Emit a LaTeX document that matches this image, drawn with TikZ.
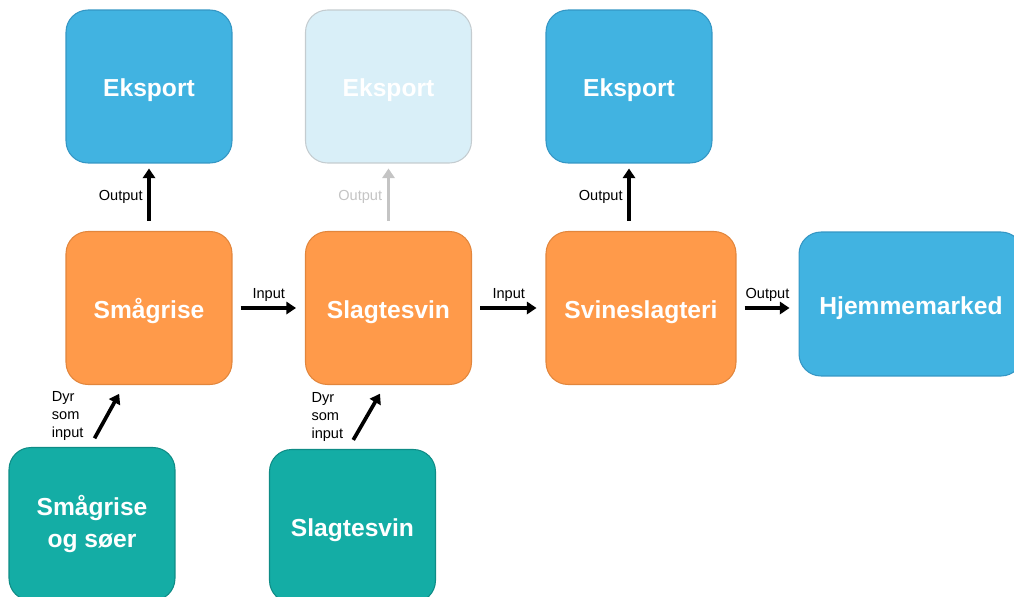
\documentclass[tikz,border=0pt]{standalone}
\usepackage{fontspec}
\setmainfont{Liberation Sans}
\usetikzlibrary{arrows.meta}
\definecolor{kblue}{RGB}{65,179,225}
\definecolor{kblueline}{RGB}{52,150,196}
\definecolor{korange}{RGB}{255,154,74}
\definecolor{korangeline}{RGB}{226,134,60}
\definecolor{kteal}{RGB}{20,173,165}
\definecolor{ktealline}{RGB}{14,140,134}
\definecolor{kpale}{RGB}{217,239,248}
\definecolor{kpaleline}{RGB}{196,204,208}
\definecolor{kgray}{RGB}{196,196,196}
\tikzset{
kbox/.style={draw,rounded corners=0.44cm,minimum width=3.32cm,minimum height=3.06cm,line width=0.6pt,text=white,align=center,font=\fontsize{14}{18}\selectfont\bfseries},
kone/.style={text height=13pt,text depth=1.2pt},
kexport/.style={kbox,kone,fill=kblue,draw=kblueline},
kfaded/.style={kbox,kone,fill=kpale,draw=kpaleline},
kstage/.style={kbox,kone,fill=korange,draw=korangeline},
ksource/.style={kbox,fill=kteal,draw=ktealline},
karrow/.style={-{Triangle[length=5.5pt,width=7pt]},line width=2.1pt,color=black},
kfadedarrow/.style={karrow,color=kgray},
klabel/.style={font=\fontsize{8.3}{10.2}\selectfont,inner sep=2pt}
}
\begin{document}
\begin{tikzpicture}[x=0.02cm,y=-0.02cm]
\useasboundingbox (0,0) rectangle (1014,596);
\clip (0,0) rectangle (1014,596);
% boxes
\foreach \kx/\kname/\kst in {149/ekA/kexport,388.5/ekB/kfaded,629/ekC/kexport}{\node[\kst](\kname) at (\kx,86.5){Eksport};}
\node[kstage](smaa) at (149,308){Smågrise};
\node[kstage](slag) at (388.5,308){Slagtesvin};
\node[kstage,minimum width=3.8cm](slagteri) at (641,308){Svineslagteri};
\node[kexport,minimum width=4.48cm,minimum height=2.88cm](hjem) at (911,304){Hjemmemarked};
\node[ksource](srcA) at (92,524){Smågrise\\og søer};
\node[ksource,kone](srcB) at (352.5,526){Slagtesvin};
% arrows
\foreach \klo/\khi/\kst in {smaa/ekA/karrow,slag/ekB/kfadedarrow,slagteri/ekC/karrow}{\draw[\kst,shorten <=0.2cm,shorten >=0.1cm](\klo.north -| \khi.south) -- (\khi.south) node[midway,left=0.02cm,klabel]{Output};}
\foreach \klo/\khi/\klb in {smaa/slag/Input,slag/slagteri/Input,slagteri/hjem/Output}{\draw[karrow,shorten <=0.16cm,shorten >=0.18cm](\klo.east) -- (\klo.east -| \khi.west) node[midway,above=0.02cm,klabel]{\klb};}
\draw[karrow,shorten <=0.2cm,shorten >=0.2cm]([xshift=-0.046cm]srcA.north) -- ([xshift=-0.5cm]smaa.south) node[midway,left=0.36cm,klabel,align=left]{Dyr\\som\\input};
\draw[karrow,shorten <=0.21cm,shorten >=0.2cm]([xshift=-0.09cm]srcB.north) -- ([xshift=-0.07cm]slag.south) node[midway,left=0.36cm,klabel,align=left]{Dyr\\som\\input};
\end{tikzpicture}
\end{document}
